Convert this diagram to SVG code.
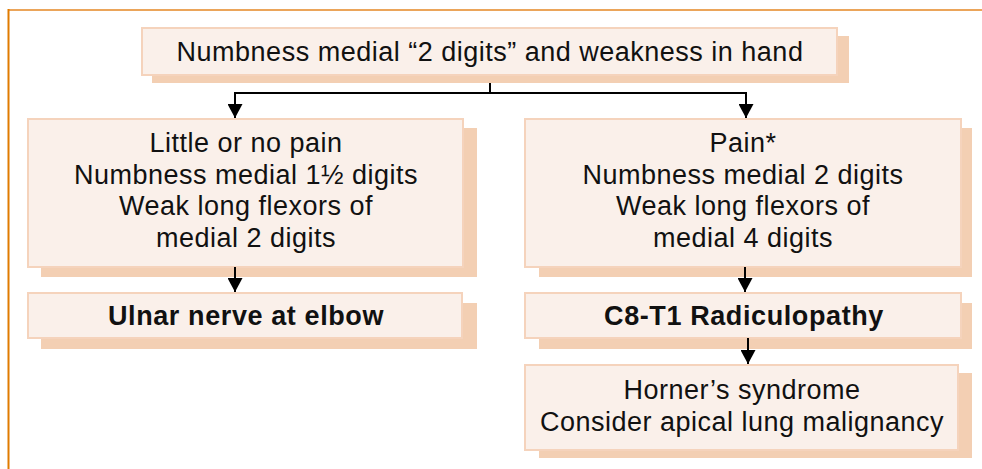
<svg xmlns="http://www.w3.org/2000/svg" width="982" height="469" viewBox="0 0 982 469">
<defs>
<style>
.sh{fill:#F3CFB3}
.bx{fill:#FAF0EA;stroke:#F5D3BC;stroke-width:2}
.t{font-family:"Liberation Sans",Arial,sans-serif;font-size:27px;letter-spacing:0.5px;fill:#111;text-anchor:middle}
.b{font-weight:bold;font-size:27px;letter-spacing:0.6px}
.ln{fill:none;stroke:#000;stroke-width:2}
</style>
<marker id="a" viewBox="0 0 14 15" refX="14" refY="7.5" markerWidth="14" markerHeight="15" markerUnits="userSpaceOnUse" orient="auto">
<path d="M0,0 L14,7.5 L0,15 Z" fill="#000"/>
</marker>
</defs>
<rect width="982" height="469" fill="#fff"/>
<g id="frame">
<line x1="8" y1="10" x2="982" y2="10" stroke="#EBA55A" stroke-width="2"/>
<line x1="8.5" y1="9" x2="8.5" y2="469" stroke="#E07B00" stroke-width="2"/>
</g>
<g id="n-top">
<rect class="sh" x="152" y="36" width="697" height="47"/>
<rect class="bx" x="142" y="28" width="695" height="47"/>
<text class="t" x="490" y="61">Numbness medial “2 digits” and weakness in hand</text>
</g>
<g id="n-left">
<rect class="sh" x="41" y="128" width="436" height="149"/>
<rect class="bx" x="28" y="119" width="435" height="148"/>
<text class="t" x="246" y="152">Little or no pain</text>
<text class="t" x="246" y="183.5">Numbness medial 1½ digits</text>
<text class="t" x="246" y="215">Weak long flexors of</text>
<text class="t" x="246" y="246.5">medial 2 digits</text>
</g>
<g id="n-right">
<rect class="sh" x="539" y="128" width="433" height="149"/>
<rect class="bx" x="525" y="119" width="436" height="148"/>
<text class="t" x="743" y="152">Pain*</text>
<text class="t" x="743" y="183.5">Numbness medial 2 digits</text>
<text class="t" x="743" y="215">Weak long flexors of</text>
<text class="t" x="743" y="246.5">medial 4 digits</text>
</g>
<g id="n-ulnar">
<rect class="sh" x="41" y="303" width="436" height="46"/>
<rect class="bx" x="28" y="293" width="434" height="45"/>
<text class="t b" x="246" y="325">Ulnar nerve at elbow</text>
</g>
<g id="n-c8">
<rect class="sh" x="539" y="303" width="433" height="46"/>
<rect class="bx" x="525" y="293" width="436" height="45"/>
<text class="t b" x="744" y="325">C8-T1 Radiculopathy</text>
</g>
<g id="n-horner">
<rect class="sh" x="539" y="373" width="433" height="85"/>
<rect class="bx" x="525" y="365" width="433" height="85"/>
<text class="t" x="742" y="399">Horner’s syndrome</text>
<text class="t" x="742" y="431">Consider apical lung malignancy</text>
</g>
<g id="connectors">
<path class="ln" d="M490,83 V93 M235,93 H746"/>
<path class="ln" d="M235,92 V118" marker-end="url(#a)"/>
<path class="ln" d="M746,92 V118" marker-end="url(#a)"/>
<path class="ln" d="M235,267 V292" marker-end="url(#a)"/>
<path class="ln" d="M745,267 V292" marker-end="url(#a)"/>
<path class="ln" d="M748,338 V364" marker-end="url(#a)"/>
</g>
</svg>
